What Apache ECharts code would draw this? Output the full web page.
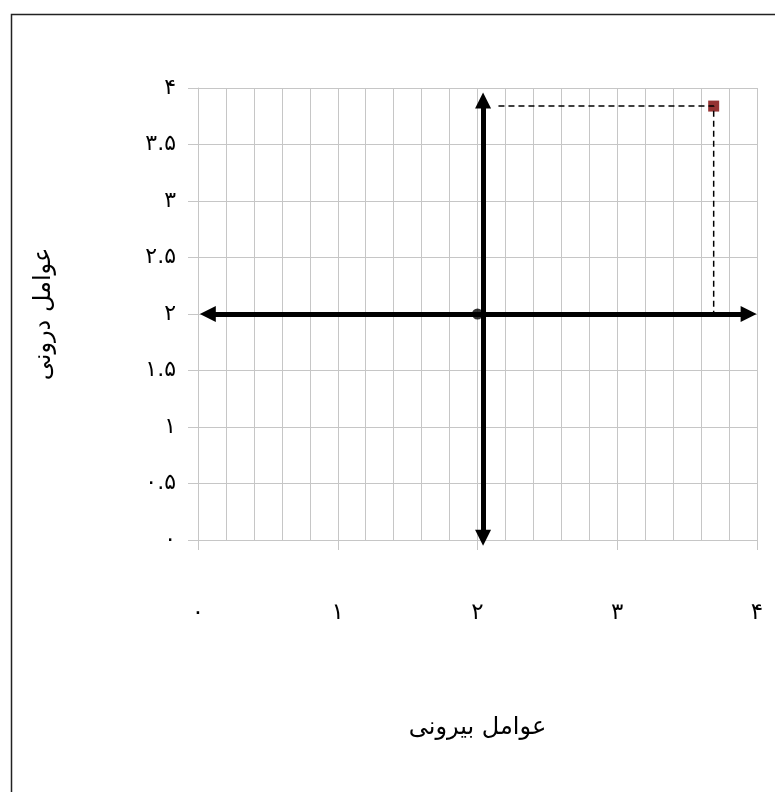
<!DOCTYPE html>
<html>
<head>
<meta charset="utf-8">
<script src="https://cdn.jsdelivr.net/npm/echarts@6/dist/echarts.min.js"></script>
<style>
  html, body { margin: 0; padding: 0; background: #fff; }
  #chart { width: 775px; height: 792px; }
</style>
</head>
<body>
<div id="chart"></div>
<script>
// tick labels (Persian digits)
var xTickLabels = ['۰', '۱', '۲', '۳', '۴'];
var yTickLabels = ['۰', '۰.۵', '۱', '۱.۵', '۲', '۲.۵', '۳', '۳.۵', '۴'];

var xTitle = 'عوامل بیرونی';
var yTitle = 'عوامل درونی';

// origin point and the plotted point
var centerPoint = [[2, 2]];
var samplePoint = [[3.69, 3.84]];

// dashed guide from the vertical arrow to the point and down to the horizontal arrow
var guideLine = [[2.15, 3.84], [3.69, 3.84], [3.69, 2]];

// thick arrows (ends = arrowhead centres)
var hArrow = [[0.07, 2], [3.94, 2]];
var vArrow = [[2.04, 0.02], [2.04, 3.89]];

var gridColor = '#c6c6c6';
var font = "'DejaVu Sans', 'Liberation Serif', serif";

var chart = echarts.init(document.getElementById('chart'));

function arrowSeries(name, pts) {
    return {
        name: name,
        type: 'line',
        data: [],
        silent: true,
        markLine: {
            silent: true,
            animation: false,
            symbol: ['triangle', 'triangle'],
            symbolSize: [16, 16],
            label: { show: false },
            lineStyle: { color: '#000', width: 5, type: 'solid' },
            emphasis: { disabled: true },
            data: [[{ coord: pts[0] }, { coord: pts[1] }]]
        }
    };
}

var option = {
    backgroundColor: '#fff',
    animation: false,
    grid: {
        left: 198,
        right: 18,
        top: 88,
        bottom: 252
    },
    graphic: [{
        type: 'rect',
        left: 9,
        top: 12,
        shape: { width: 820, height: 820 },
        style: { fill: 'none', stroke: '#222', lineWidth: 1.5 },
        silent: true
    }],
    xAxis: {
        type: 'value',
        min: 0,
        max: 4,
        interval: 1,
        name: xTitle,
        nameLocation: 'middle',
        nameGap: 176,
        nameTextStyle: { fontFamily: font, fontSize: 24, color: '#000' },
        axisLine: { show: true, lineStyle: { color: gridColor, width: 1 } },
        axisTick: { show: true, length: 10, lineStyle: { color: gridColor } },
        axisLabel: {
            margin: 62,
            fontFamily: font,
            fontSize: 23,
            color: '#000',
            formatter: function (v) { return xTickLabels[Math.round(v)]; }
        },
        splitLine: { show: true, lineStyle: { color: gridColor, width: 1 } },
        minorTick: { show: false, splitNumber: 5 },
        minorSplitLine: { show: true, lineStyle: { color: gridColor, width: 1 } }
    },
    yAxis: {
        type: 'value',
        min: 0,
        max: 4,
        interval: 0.5,
        name: yTitle,
        nameLocation: 'middle',
        nameGap: 142,
        nameRotate: 90,
        nameTextStyle: { fontFamily: font, fontSize: 24, color: '#000' },
        axisLine: { show: true, lineStyle: { color: gridColor, width: 1 } },
        axisTick: { show: true, length: 10, lineStyle: { color: gridColor } },
        axisLabel: {
            margin: 22,
            fontFamily: font,
            fontSize: 22,
            color: '#000',
            formatter: function (v) { return yTickLabels[Math.round(v * 2)]; }
        },
        splitLine: { show: true, lineStyle: { color: gridColor, width: 1 } }
    },
    series: [
        {
            name: 'guide',
            type: 'line',
            data: guideLine,
            symbol: 'none',
            silent: true,
            lineStyle: { color: '#000', width: 1.5, type: [6, 4] }
        },
        arrowSeries('horizontal', hArrow),
        arrowSeries('vertical', vArrow),
        {
            name: 'center',
            type: 'scatter',
            data: centerPoint,
            symbol: 'circle',
            symbolSize: 11,
            itemStyle: { color: '#000' },
            silent: true
        },
        {
            name: 'point',
            type: 'scatter',
            data: samplePoint,
            symbol: 'rect',
            symbolSize: 11,
            itemStyle: { color: '#7a0000' },
            silent: true
        }
    ]
};

chart.setOption(option);
</script>
</body>
</html>
